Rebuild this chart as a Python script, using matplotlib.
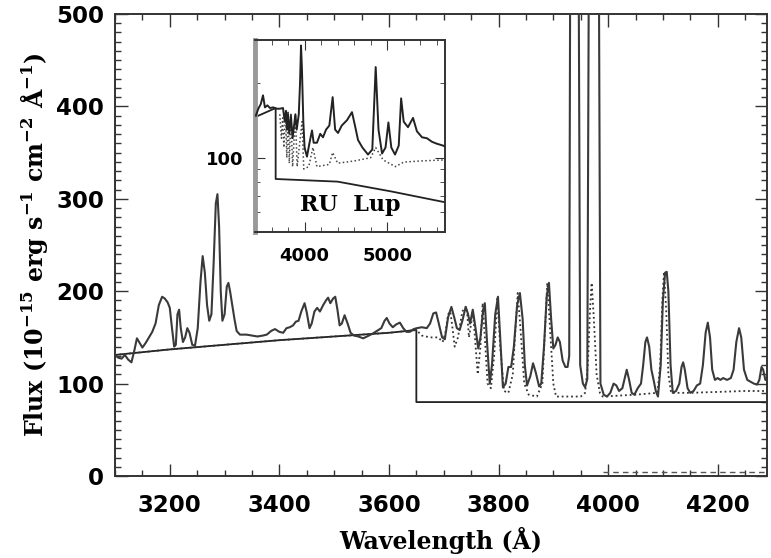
import matplotlib
matplotlib.use("Agg")
import matplotlib.pyplot as plt
from matplotlib.ticker import MultipleLocator, FixedLocator, NullFormatter, LogLocator

plt.rcParams['mathtext.fontset'] = 'custom'
plt.rcParams['mathtext.rm'] = 'DejaVu Serif:bold'
plt.rcParams['mathtext.default'] = 'rm'

# ---------------- main spectrum (observed) ----------------
spec_wave = [3100, 3106, 3112, 3118, 3124, 3130, 3135, 3140, 3145, 3150, 3156, 3162, 3168,
             3174, 3180, 3186, 3191, 3196, 3200, 3204, 3208, 3211, 3214, 3217, 3220, 3224,
             3228, 3232, 3236, 3241, 3246, 3251, 3256, 3260, 3264, 3268, 3272, 3276, 3280,
             3284, 3287, 3290, 3293, 3296, 3300, 3304, 3307, 3310, 3314, 3318, 3322, 3328,
             3340, 3350, 3360, 3370, 3377, 3385, 3392, 3400, 3407, 3413, 3419, 3425, 3430,
             3435, 3440, 3446, 3450, 3455, 3459, 3464, 3469, 3474, 3480, 3485, 3489, 3493,
             3498, 3502, 3506, 3510, 3514, 3519, 3524, 3530, 3536, 3544, 3553, 3560, 3570,
             3578, 3586, 3592, 3596, 3601, 3607, 3613, 3620, 3626, 3632, 3638, 3645, 3651,
             3660, 3669, 3675, 3681, 3686, 3691, 3697, 3702, 3708, 3714, 3719, 3724, 3729,
             3734, 3740, 3744, 3748, 3753, 3758, 3763, 3767, 3771, 3775, 3779, 3784, 3788,
             3794, 3799, 3803, 3808, 3813, 3818, 3823, 3828, 3834, 3839, 3844, 3848, 3852,
             3858, 3863, 3868, 3874, 3878, 3883, 3888, 3892, 3896, 3900, 3904, 3908, 3912,
             3917, 3922, 3926, 3929, 3937, 3949, 3954, 3958, 3962, 3974, 3986, 3992, 3998,
             4004, 4010, 4015, 4020, 4026, 4030, 4034, 4038, 4043, 4048, 4054, 4060, 4064,
             4068, 4071, 4075, 4079, 4083, 4087, 4091, 4096, 4100, 4104, 4107, 4110, 4114,
             4118, 4124, 4130, 4134, 4137, 4140, 4145, 4150, 4156, 4162, 4168, 4173, 4178,
             4182, 4186, 4190, 4195, 4200, 4205, 4210, 4217, 4224, 4229, 4234, 4239, 4243,
             4248, 4254, 4260, 4266, 4272, 4276, 4280, 4283, 4287, 4290]
spec_flux = [131, 128, 127, 131, 126, 123, 135, 149, 144, 139, 144, 150, 156,
             165, 185, 194, 192, 188, 182, 160, 140, 142, 175, 180, 160, 145,
             150, 160, 155, 142, 141, 160, 210, 238, 220, 185, 168, 175, 230,
             295, 305, 270, 200, 168, 175, 205, 209, 200, 185, 170, 157, 153,
             153, 152, 151, 152, 153, 157, 159, 156, 155, 160, 161, 163, 167,
             168, 178, 187, 177, 160, 165, 178, 182, 178, 185, 190, 193, 187,
             192, 194, 180, 163, 165, 174, 166, 155, 152, 151, 149, 151, 154,
             157, 160, 168, 171, 165, 161, 164, 166, 160, 156, 156, 159, 160,
             161, 160, 165, 176, 177, 165, 150, 148, 172, 183, 172, 160, 158,
             168, 183, 176, 165, 180, 160, 138, 150, 175, 187, 145, 100, 120,
             175, 194, 150, 96, 100, 118, 118, 140, 185, 198, 170, 120, 98,
             108, 122, 112, 97, 100, 140, 195, 209, 170, 138, 142, 150, 145,
             125, 118, 118, 130, 2000, 120, 100, 96, 105, 2000, 100, 88, 86,
             90, 100, 98, 92, 95, 105, 115, 105, 90, 88, 95, 100, 120,
             145, 150, 140, 115, 104, 92, 86, 120, 190, 220, 221, 200, 120,
             90, 92, 100, 118, 123, 115, 95, 90, 92, 98, 100, 120, 155,
             166, 150, 115, 104, 106, 104, 106, 104, 106, 115, 145, 160, 150,
             115, 104, 102, 100, 99, 104, 118, 115, 104, 104]

# continuum (Balmer jump)
cont_wave = [3100, 3200, 3300, 3400, 3500, 3600, 3650, 3650, 4290]
cont_flux = [131, 137, 142, 147, 151, 155, 158, 80, 80]

# model (dotted)
model_wave = [3100, 3200, 3300, 3400, 3500, 3600, 3650, 3660, 3675, 3690, 3698, 3703, 3708,
              3712, 3716, 3720, 3726, 3730, 3734, 3738, 3742, 3746, 3750, 3753, 3757, 3762,
              3767, 3771, 3775, 3780, 3786, 3792, 3798, 3803, 3810, 3818, 3826, 3831, 3835,
              3840, 3847, 3855, 3870, 3880, 3885, 3889, 3894, 3900, 3905, 3950, 3958, 3963,
              3967, 3970, 3974, 3979, 3985, 3990, 4050, 4090, 4095, 4099, 4102, 4106, 4110,
              4115, 4150, 4200, 4250, 4290]
model_flux = [131, 137, 142, 147, 151, 155, 158, 152, 150, 150, 145, 155, 175,
              178, 160, 140, 150, 165, 178, 182, 183, 150, 165, 180, 150, 110,
              140, 187, 150, 100, 95, 130, 194, 140, 92, 90, 110, 160, 198,
              160, 100, 88, 86, 100, 160, 209, 160, 100, 86, 86, 90, 120,
              180, 209, 170, 110, 90, 86, 88, 90, 120, 190, 221, 180, 110,
              90, 90, 91, 92, 92]

# residual (dashed, near zero)
resid_wave = [3990, 4290]
resid_flux = [4, 4]

# ---------------- inset spectrum ----------------
ins_wave = [3410, 3440, 3470, 3497, 3520, 3550, 3582, 3620, 3660, 3700, 3739, 3760, 3775,
            3790, 3800, 3815, 3835, 3855, 3889, 3905, 3930, 3945, 3957, 3968, 3985, 4000,
            4029, 4060, 4090, 4110, 4150, 4190, 4223, 4260, 4300, 4340, 4370, 4405, 4450,
            4514, 4574, 4610, 4647, 4700, 4768, 4820, 4861, 4895, 4938, 4980, 5015, 5050,
            5095, 5140, 5169, 5200, 5252, 5313, 5360, 5422, 5480, 5543, 5600, 5676, 5700]
ins_flux = [148, 158, 165, 179, 160, 163, 159, 160, 158, 158, 159, 140, 155,
            130, 150, 125, 148, 120, 150, 130, 150, 200, 285, 230, 140, 110,
            101, 115, 129, 115, 115, 125, 121, 130, 135, 176, 130, 126, 135,
            142, 153, 135, 118, 110, 103, 108, 233, 130, 104, 110, 139, 110,
            103, 112, 174, 140, 133, 145, 128, 121, 120, 116, 114, 112, 111]

ins_cont_wave = [3400, 3650, 3650, 4400, 5050, 5700]
ins_cont_flux = [146, 159, 82, 80, 73, 66]

ins_model_wave = [3700, 3720, 3735, 3750, 3770, 3785, 3800, 3815, 3835, 3855, 3889, 3910,
                  3970, 3990, 4050, 4101, 4150, 4300, 4340, 4400, 4600, 4800, 4861, 4950,
                  5100, 5200, 5400, 5700]
ins_model_flux = [150, 120, 145, 110, 150, 100, 155, 95, 150, 92, 150, 92,
                  140, 90, 92, 110, 92, 94, 105, 95, 97, 100, 110, 98,
                  92, 96, 97, 98]

main_xticks = [3200, 3400, 3600, 3800, 4000, 4200]
main_yticks = [0, 100, 200, 300, 400, 500]
inset_xticks = [4000, 5000]
inset_yticks = [100]

W, H = 771, 558
fig = plt.figure(figsize=(W / 100, H / 100), dpi=100)

tickfont = dict(family='DejaVu Sans', weight='bold', size=16.5)
inset_tickfont = dict(family='DejaVu Sans', weight='bold', size=13)
labfont = dict(family='DejaVu Serif', weight='bold', size=17)

ax = fig.add_axes([115 / W, 1 - 476 / H, (767 - 115) / W, (476 - 14) / H])
ax.plot(spec_wave, spec_flux, color='#3a3a3a', lw=1.5, zorder=3)
ax.plot(cont_wave, cont_flux, color='#222222', lw=1.3, zorder=2)
ax.plot(model_wave, model_flux, color='#333333', lw=1.3, ls=(0, (1, 1.6)), zorder=2)
ax.plot(resid_wave, resid_flux, color='#555555', lw=1.0, ls=(0, (4, 3)), zorder=2)
ax.set_xlim(3100, 4290)
ax.set_ylim(0, 500)
ax.xaxis.set_major_locator(FixedLocator(main_xticks))
ax.yaxis.set_major_locator(FixedLocator(main_yticks))
ax.xaxis.set_minor_locator(MultipleLocator(50))
ax.yaxis.set_minor_locator(MultipleLocator(10))
ax.tick_params(which='both', direction='in', top=True, right=True, width=1.0, color='#333333')
ax.tick_params(which='major', length=9, pad=8)
ax.tick_params(axis='x', which='major', pad=13)
ax.tick_params(which='minor', length=4)
ax.set_xticklabels([str(t) for t in main_xticks], fontdict=tickfont)
ax.set_yticklabels([str(t) for t in main_yticks], fontdict=tickfont)
for s in ax.spines.values():
    s.set_linewidth(1.4)
    s.set_color('#333333')
ax.set_xlabel('Wavelength (Å)', fontdict=labfont, labelpad=7)
ax.set_ylabel('Flux (10$^{-15}$ erg s$^{-1}$ cm$^{-2}$ Å$^{-1}$)', fontdict=labfont, labelpad=4)

# ---------------- inset ----------------
ins = fig.add_axes([255 / W, 1 - 232 / H, (445 - 255) / W, (232 - 40) / H])
ins.set_yscale('log')
ins.plot(ins_wave, ins_flux, color='#222222', lw=1.4, zorder=3)
ins.plot(ins_cont_wave, ins_cont_flux, color='#222222', lw=1.3, zorder=2)
ins.plot(ins_model_wave, ins_model_flux, color='#444444', lw=1.1, ls=(0, (1, 1.6)), zorder=2)
ins.set_xlim(3400, 5700)
ins.set_ylim(50, 300)
ins.xaxis.set_major_locator(FixedLocator(inset_xticks))
ins.xaxis.set_minor_locator(MultipleLocator(200))
ins.yaxis.set_major_locator(FixedLocator(inset_yticks))
ins.yaxis.set_minor_locator(LogLocator(base=10, subs=range(2, 10)))
ins.yaxis.set_minor_formatter(NullFormatter())
ins.set_xticklabels([str(t) for t in inset_xticks], fontdict=inset_tickfont)
ins.set_yticklabels([str(t) for t in inset_yticks], fontdict=inset_tickfont)
ins.tick_params(which='both', direction='in', top=True, right=True, color='#333333')
ins.tick_params(which='major', length=7, pad=8)
ins.tick_params(axis='x', which='major', pad=11)
ins.tick_params(which='minor', length=3.5)
for s in ins.spines.values():
    s.set_linewidth(1.4)
    s.set_color('#333333')
ins.spines['left'].set_linewidth(3.5)
ins.spines['left'].set_color('#999999')
ins.text(0.5, 0.14, 'RU  Lup', transform=ins.transAxes, ha='center', va='center',
         family='DejaVu Serif', weight='bold', size=16)

fig.savefig('out.png', dpi=100)
